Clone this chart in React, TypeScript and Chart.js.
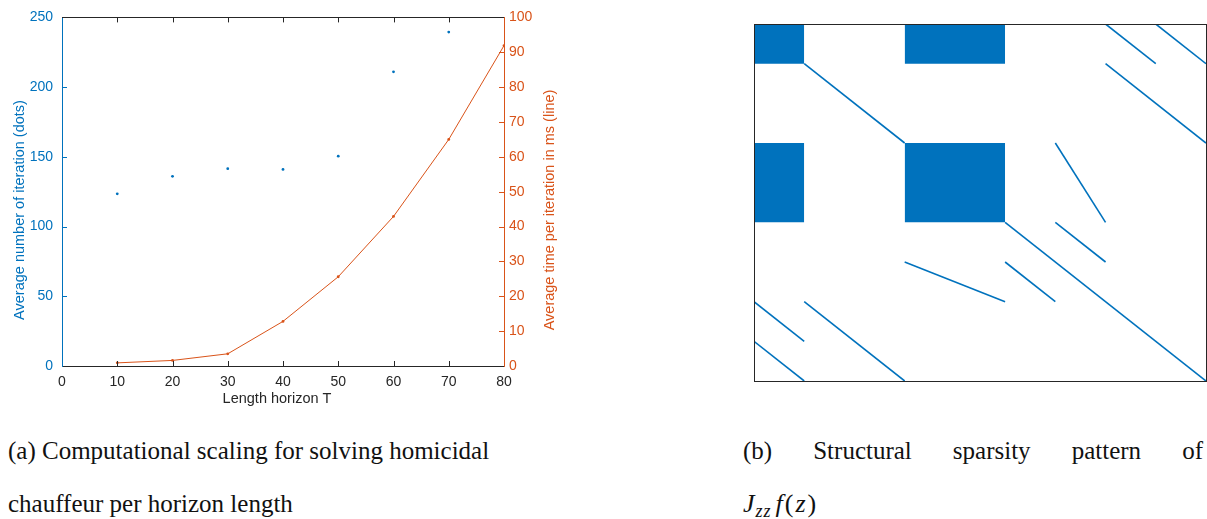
import React, { useEffect, useRef } from "react";
import { Chart, registerables } from "chart.js";

Chart.register(...registerables);

// ---------- data: panel (a) ----------
const horizons = [10, 20, 30, 40, 50, 60, 70, 80];
const avgIterations = [123.5, 136, 141.5, 141, 150.5, 211, 239.5];
const avgTimeMs = [0.9, 1.6, 3.5, 12.8, 25.6, 42.9, 65.0, 91.9];
const xTicks = [0, 10, 20, 30, 40, 50, 60, 70, 80];
const leftTicks = [0, 50, 100, 150, 200, 250];
const rightTicks = [0, 10, 20, 30, 40, 50, 60, 70, 80, 90, 100];
const xTitle = "Length horizon T";
const leftTitle = "Average number of iteration (dots)";
const rightTitle = "Average time per iteration in ms (line)";

// ---------- data: panel (b) sparsity pattern (block units) ----------
const blockCol0 = [0, 3, 0, 3];
const blockCol1 = [1, 5, 1, 5];
const blockRow0 = [0, 0, 3, 3];
const blockRow1 = [1, 1, 5, 5];
const diagX0 = [1, 7, 8, 7, 6, 5, 6, 3, 5, 0, 1, 0];
const diagY0 = [1, 0, 0, 1, 3, 5, 5, 6, 6, 7, 7, 8];
const diagX1 = [3, 8, 9, 9, 7, 9, 7, 5, 6, 1, 3, 1];
const diagY1 = [3, 1, 1, 3, 5, 9, 6, 7, 7, 8, 9, 9];
const matrixSize = 9;

// ---------- captions ----------
const captionA1 = "(a) Computational scaling for solving homicidal";
const captionA2 = "chauffeur per horizon length";
const captionB1 = ["(b)", "Structural", "sparsity", "pattern", "of"];

const BLUE = "#0072BD";
const ORANGE = "#D95319";
const DARK = "#262626";
const SANS = '"Liberation Sans", Arial, sans-serif';

const A_W = 570;
const A_H = 415;
const B_W = 459;
const B_H = 368;

const framePlugin = {
  id: "frameA",
  afterDraw(chart: any) {
    const { ctx, chartArea } = chart;
    const { left, right, top, bottom } = chartArea;
    const sx = chart.scales.x;
    const sy = chart.scales.y;
    const sy1 = chart.scales.y1;
    const tl = 5;
    ctx.save();
    ctx.lineWidth = 1;
    // top border
    ctx.strokeStyle = DARK;
    ctx.beginPath();
    ctx.moveTo(left, Math.round(top) + 0.5);
    ctx.lineTo(right, Math.round(top) + 0.5);
    ctx.stroke();
    // x ticks inward on bottom and top
    xTicks.slice(1, -1).forEach((v) => {
      const px = Math.round(sx.getPixelForValue(v)) + 0.5;
      ctx.beginPath();
      ctx.moveTo(px, bottom);
      ctx.lineTo(px, bottom - tl);
      ctx.moveTo(px, top);
      ctx.lineTo(px, top + tl);
      ctx.stroke();
    });
    // left ticks
    ctx.strokeStyle = BLUE;
    leftTicks.slice(1, -1).forEach((v) => {
      const py = Math.round(sy.getPixelForValue(v)) + 0.5;
      ctx.beginPath();
      ctx.moveTo(left, py);
      ctx.lineTo(left + tl, py);
      ctx.stroke();
    });
    // right ticks
    ctx.strokeStyle = ORANGE;
    rightTicks.slice(1, -1).forEach((v) => {
      const py = Math.round(sy1.getPixelForValue(v)) + 0.5;
      ctx.beginPath();
      ctx.moveTo(right, py);
      ctx.lineTo(right - tl, py);
      ctx.stroke();
    });
    // titles
    ctx.font = "14.5px " + SANS;
    ctx.textBaseline = "alphabetic";
    ctx.textAlign = "center";
    ctx.fillStyle = DARK;
    ctx.fillText(xTitle, (left + right) / 2 - 6, 403);
    ctx.fillStyle = BLUE;
    ctx.save();
    ctx.translate(24, 210);
    ctx.rotate(-Math.PI / 2);
    ctx.fillText(leftTitle, 0, 0);
    ctx.restore();
    ctx.fillStyle = ORANGE;
    ctx.save();
    ctx.translate(554, 210);
    ctx.rotate(-Math.PI / 2);
    ctx.fillText(rightTitle, 0, 0);
    ctx.restore();
    ctx.restore();
  },
};

const boxPlugin = {
  id: "boxB",
  afterDraw(chart: any) {
    const { ctx, chartArea } = chart;
    const { left, right, top, bottom } = chartArea;
    ctx.save();
    ctx.strokeStyle = DARK;
    ctx.lineWidth = 1;
    ctx.strokeRect(left + 0.5, top + 0.5, right - left, bottom - top);
    ctx.restore();
  },
};

export default function App() {
  const refA = useRef<HTMLCanvasElement | null>(null);
  const refB = useRef<HTMLCanvasElement | null>(null);

  useEffect(() => {
    const tickFont = { family: SANS, size: 14 };
    const chartA = new Chart(refA.current as HTMLCanvasElement, {
      type: "line",
      data: {
        datasets: [
          {
            label: "iterations",
            data: avgIterations.map((v, i) => ({ x: horizons[i], y: v })),
            yAxisID: "y",
            showLine: false,
            pointRadius: 1.4,
            pointBorderWidth: 0,
            pointBackgroundColor: BLUE,
            borderColor: BLUE,
            backgroundColor: BLUE,
          },
          {
            label: "time",
            data: avgTimeMs.map((v, i) => ({ x: horizons[i], y: v })),
            yAxisID: "y1",
            borderColor: ORANGE,
            backgroundColor: ORANGE,
            borderWidth: 1,
            pointRadius: 1.4,
            pointBorderWidth: 0,
            pointBackgroundColor: ORANGE,
            tension: 0,
          },
        ],
      },
      options: {
        animation: false,
        responsive: false,
        devicePixelRatio: 1,
        plugins: { legend: { display: false }, tooltip: { enabled: false } },
        layout: { padding: { top: 16, left: 0, right: 0, bottom: 0 } },
        scales: {
          x: {
            type: "linear",
            position: "bottom",
            min: 0,
            max: 80,
            afterBuildTicks: (s: any) => {
              s.ticks = xTicks.map((v) => ({ value: v }));
            },
            afterFit: (s: any) => {
              s.height = A_H - 366;
            },
            ticks: { color: DARK, font: tickFont, padding: 8, maxRotation: 0, autoSkip: false },
            grid: { display: false, drawTicks: false, tickLength: 0 },
            border: { color: DARK, width: 1 },
          },
          y: {
            type: "linear",
            position: "left",
            min: 0,
            max: 250,
            afterBuildTicks: (s: any) => {
              s.ticks = leftTicks.map((v) => ({ value: v }));
            },
            afterFit: (s: any) => {
              s.width = 62;
            },
            ticks: { color: BLUE, font: tickFont, padding: 9, autoSkip: false },
            grid: { display: false, drawTicks: false, tickLength: 0 },
            border: { color: BLUE, width: 1 },
          },
          y1: {
            type: "linear",
            position: "right",
            min: 0,
            max: 100,
            afterBuildTicks: (s: any) => {
              s.ticks = rightTicks.map((v) => ({ value: v }));
            },
            afterFit: (s: any) => {
              s.width = A_W - 504;
            },
            ticks: { color: ORANGE, font: tickFont, padding: 5, autoSkip: false },
            grid: { display: false, drawTicks: false, tickLength: 0 },
            border: { color: ORANGE, width: 1 },
          },
        },
      },
      plugins: [framePlugin],
    } as any);

    const blockSets = blockCol0.map((c0, i) => ({
      data: [
        { x: c0, y: blockRow0[i] },
        { x: blockCol1[i], y: blockRow0[i] },
      ],
      fill: { value: blockRow1[i] },
      backgroundColor: BLUE,
      borderColor: BLUE,
      borderWidth: 0,
      pointRadius: 0,
    }));
    const lineSets = diagX0.map((x0, i) => ({
      data: [
        { x: x0, y: diagY0[i] },
        { x: diagX1[i], y: diagY1[i] },
      ],
      fill: false,
      borderColor: BLUE,
      borderWidth: 1.6,
      pointRadius: 0,
    }));

    const chartB = new Chart(refB.current as HTMLCanvasElement, {
      type: "line",
      data: { datasets: [...blockSets, ...lineSets] },
      options: {
        animation: false,
        responsive: false,
        devicePixelRatio: 1,
        plugins: { legend: { display: false }, tooltip: { enabled: false } },
        layout: { padding: { top: 6, left: 6, right: 1, bottom: 5 } },
        scales: {
          x: { type: "linear", min: 0, max: matrixSize, display: false },
          y: { type: "linear", min: 0, max: matrixSize, reverse: true, display: false },
        },
      },
      plugins: [boxPlugin],
    } as any);

    return () => {
      chartA.destroy();
      chartB.destroy();
    };
  }, []);

  const serif = '"Liberation Serif", "Times New Roman", serif';
  return (
    <div
      style={{
        position: "fixed",
        left: 0,
        top: 0,
        width: 1207,
        height: 519,
        background: "#fff",
        overflow: "hidden",
      }}
    >
      <canvas
        ref={refA}
        width={A_W}
        height={A_H}
        style={{ position: "absolute", left: 0, top: 0, width: A_W, height: A_H }}
      />
      <canvas
        ref={refB}
        width={B_W}
        height={B_H}
        style={{ position: "absolute", left: 748, top: 18, width: B_W, height: B_H }}
      />
      <div
        style={{
          position: "absolute",
          left: 8,
          top: 424,
          fontFamily: serif,
          fontSize: 25,
          lineHeight: "53px",
          color: "#111",
          whiteSpace: "nowrap",
        }}
      >
        <div>{captionA1}</div>
        <div>{captionA2}</div>
      </div>
      <div
        style={{
          position: "absolute",
          left: 743,
          top: 424,
          width: 460,
          fontFamily: serif,
          fontSize: 25,
          lineHeight: "53px",
          color: "#111",
          whiteSpace: "nowrap",
        }}
      >
        <div style={{ display: "flex", justifyContent: "space-between" }}>
          {captionB1.map((w) => (
            <span key={w}>{w}</span>
          ))}
        </div>
        <div style={{ fontSize: 26 }}>
          <i>J</i>
          <sub
            style={{
              fontSize: 18,
              verticalAlign: "-5px",
              lineHeight: 0,
              marginLeft: 1,
              marginRight: 4,
              letterSpacing: 1,
            }}
          >
            <i>zz</i>
          </sub>
          <span style={{ letterSpacing: 2 }}>
            <i>f</i>(<i>z</i>)
          </span>
        </div>
      </div>
    </div>
  );
}
